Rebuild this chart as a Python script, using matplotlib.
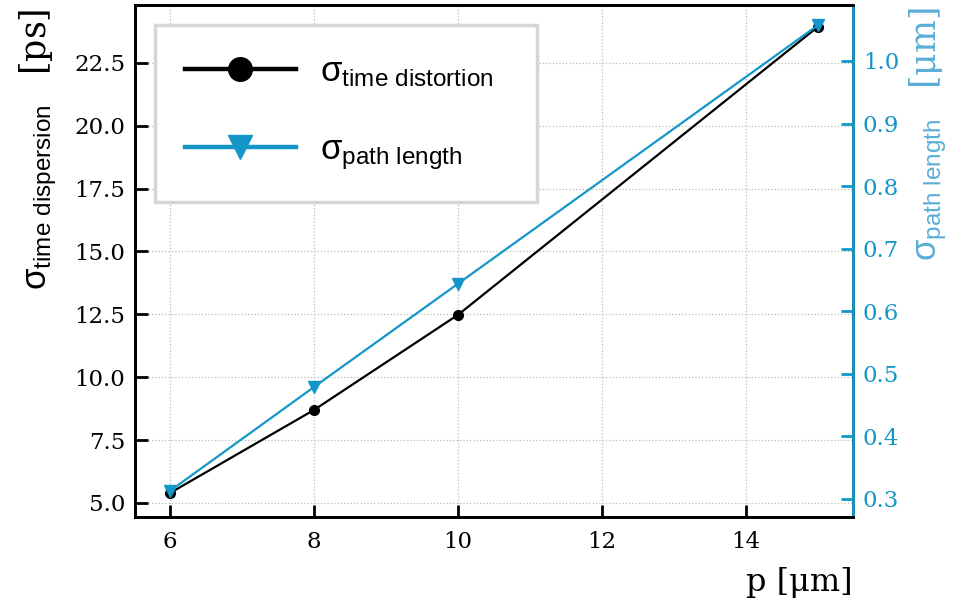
import matplotlib.pyplot as plt
from matplotlib.lines import Line2D

# pitch p [um]
pitch = [6, 8, 10, 15]
# left axis: sigma time dispersion [ps]
sigma_time = [5.40, 8.70, 12.48, 23.93]
# right axis: sigma path length [um]
sigma_path = [0.313, 0.479, 0.644, 1.057]

x_ticks = [6, 8, 10, 12, 14]
left_ticks = [5.0, 7.5, 10.0, 12.5, 15.0, 17.5, 20.0, 22.5]
right_ticks = [0.3, 0.4, 0.5, 0.6, 0.7, 0.8, 0.9, 1.0]

CYAN = '#1596c8'
CYAN_LABEL = '#5aaed6'

plt.rcParams['mathtext.fontset'] = 'custom'
plt.rcParams['mathtext.sf'] = 'Liberation Sans'
plt.rcParams['mathtext.rm'] = 'DejaVu Serif'
plt.rcParams['mathtext.it'] = 'Liberation Sans'

fig = plt.figure(figsize=(9.58, 6.0), dpi=100)
ax = fig.add_axes([135 / 958, 1 - 517 / 600, 718 / 958, 512 / 600])
ax2 = ax.twinx()

ax.plot(pitch, sigma_time, color='black', lw=1.6, marker='o', ms=7, zorder=3)
ax2.plot(pitch, sigma_path, color=CYAN, lw=1.6, marker='v', ms=8, zorder=3)

ax.set_xlim(5.51, 15.49)
ax.set_ylim(4.44, 24.8)
ax2.set_ylim(0.271, 1.0895)

ax.set_xticks(x_ticks)
ax.set_yticks(left_ticks)
ax2.set_yticks(right_ticks)
ax.set_xticklabels([str(t) for t in x_ticks])
ax.set_yticklabels(['%.1f' % t for t in left_ticks])
ax2.set_yticklabels(['%.1f' % t for t in right_ticks])

for lab in ax.get_xticklabels() + ax.get_yticklabels() + ax2.get_yticklabels():
    lab.set_fontfamily('DejaVu Serif')
    lab.set_fontsize(16.5)

ax.tick_params(direction='in', length=9, width=2, colors='black', pad=7)
ax.tick_params(axis='x', pad=10)
ax2.tick_params(direction='in', length=9, width=2, colors=CYAN, pad=7)

ax.grid(True, linestyle=':', color='#bbbbbb', lw=0.9)
ax.set_axisbelow(True)

for s in ax.spines.values():
    s.set_linewidth(2)
for s in ax2.spines.values():
    s.set_linewidth(2)
ax2.spines['right'].set_color(CYAN)
ax2.spines['left'].set_color('black')

# axis labels
fig.text(0.018, 0.985, r'$\mathsf{\sigma_{time\ dispersion}}\ \ \ \mathrm{[ps]}$',
         rotation=90, ha='left', va='top', fontsize=25, color='black')
fig.text(0.947, 0.988, r'$\mathsf{\sigma_{path\ length}}\ \ \ \mathrm{[\mu m]}$',
         rotation=90, ha='left', va='top', fontsize=25, color=CYAN_LABEL)
fig.text(0.89, 0.003, 'p [μm]', ha='right', va='bottom', fontsize=23,
         fontfamily='DejaVu Serif')

# legend with big handles
h1 = Line2D([], [], color='black', lw=3.2, marker='o', ms=17)
h2 = Line2D([], [], color=CYAN, lw=3.2, marker='v', ms=17)
leg = ax2.legend([h1, h2],
                 [r'$\mathsf{\sigma_{time\ distortion}}$' + '  ',
                  r'$\mathsf{\sigma_{path\ length}}$'],
                 loc='upper left', bbox_to_anchor=(0.028, 0.961), borderaxespad=0,
                 fontsize=25, handlelength=3.2, handletextpad=0.7,
                 labelspacing=1.25, borderpad=0.85,
                 fancybox=False, framealpha=1, edgecolor='#d6d6d6')
leg.get_frame().set_linewidth(2.5)

fig.savefig('out.png', dpi=100)
